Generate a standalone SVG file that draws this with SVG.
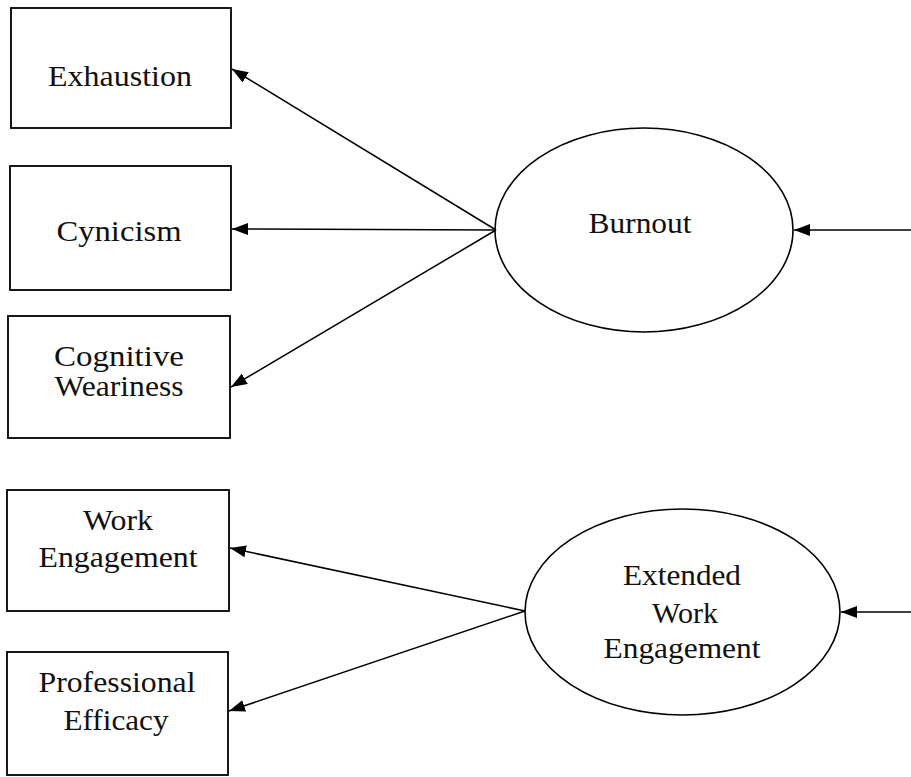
<svg xmlns="http://www.w3.org/2000/svg" width="911" height="777" viewBox="0 0 911 777">
<style>
.box{fill:#fff;stroke:#000;stroke-width:1.8}
.ell{fill:#fff;stroke:#000;stroke-width:1.6}
.lbl{font-family:"Liberation Serif","Times New Roman",serif;font-size:30px;fill:#111;text-anchor:middle}
.con{stroke:#000;stroke-width:1.5;fill:none;marker-end:url(#ah)}
</style>
<defs>
<marker id="ah" viewBox="0 0 16 12" refX="16" refY="6" markerWidth="16" markerHeight="12" markerUnits="userSpaceOnUse" orient="auto">
<path d="M0,0 L16,6 L0,12 Z" fill="#000"/>
</marker>
</defs>
<rect width="911" height="777" fill="#fff"/>
<g id="exhaustion">
<rect class="box" x="11" y="8" width="220" height="120"/>
<text class="lbl" x="120" y="86" textLength="144" lengthAdjust="spacingAndGlyphs">Exhaustion</text>
</g>
<g id="cynicism">
<rect class="box" x="10" y="166" width="221" height="124"/>
<text class="lbl" x="119" y="241" textLength="125" lengthAdjust="spacingAndGlyphs">Cynicism</text>
</g>
<g id="cognitive-weariness">
<rect class="box" x="8" y="316" width="222" height="122"/>
<text class="lbl" x="119" y="366" textLength="130" lengthAdjust="spacingAndGlyphs">Cognitive</text>
<text class="lbl" x="119" y="396" textLength="129" lengthAdjust="spacingAndGlyphs">Weariness</text>
</g>
<g id="work-engagement">
<rect class="box" x="7" y="490" width="222" height="121"/>
<text class="lbl" x="118" y="530" textLength="70" lengthAdjust="spacingAndGlyphs">Work</text>
<text class="lbl" x="118" y="567" textLength="159" lengthAdjust="spacingAndGlyphs">Engagement</text>
</g>
<g id="professional-efficacy">
<rect class="box" x="7" y="652" width="221" height="123"/>
<text class="lbl" x="117" y="692" textLength="157" lengthAdjust="spacingAndGlyphs">Professional</text>
<text class="lbl" x="116" y="730" textLength="105" lengthAdjust="spacingAndGlyphs">Efficacy</text>
</g>
<g id="burnout">
<ellipse class="ell" cx="644" cy="230" rx="149" ry="102"/>
<text class="lbl" x="640" y="233" textLength="103" lengthAdjust="spacingAndGlyphs">Burnout</text>
</g>
<g id="extended-work-engagement">
<ellipse class="ell" cx="682.5" cy="612" rx="157.5" ry="103"/>
<text class="lbl" x="682" y="585" textLength="118" lengthAdjust="spacingAndGlyphs">Extended</text>
<text class="lbl" x="685" y="623" textLength="66" lengthAdjust="spacingAndGlyphs">Work</text>
<text class="lbl" x="682" y="658" textLength="157" lengthAdjust="spacingAndGlyphs">Engagement</text>
</g>
<g id="connectors">
<line class="con" x1="496" y1="230" x2="232" y2="69"/>
<line class="con" x1="496" y1="230" x2="232" y2="229"/>
<line class="con" x1="496" y1="230" x2="231" y2="387"/>
<line class="con" x1="911" y1="230" x2="794" y2="230"/>
<line class="con" x1="525" y1="611" x2="230" y2="548"/>
<line class="con" x1="525" y1="611" x2="229" y2="711"/>
<line class="con" x1="911" y1="612" x2="841" y2="612"/>
</g>
</svg>
